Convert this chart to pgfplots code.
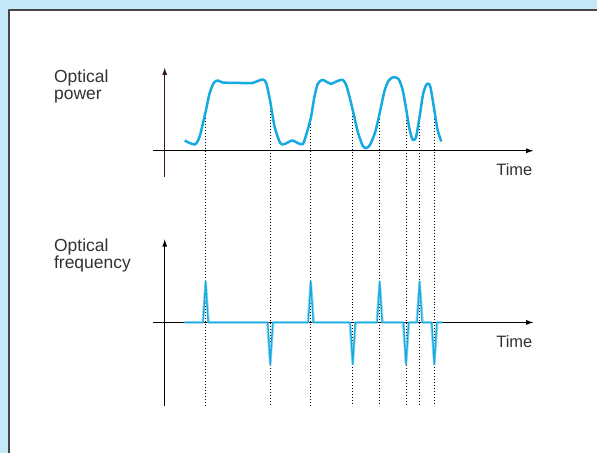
\documentclass[border=0pt]{standalone}
\usepackage{fontspec}
\setmainfont{Liberation Sans}
\usepackage{pgfplots}
\pgfplotsset{compat=1.18}
\usetikzlibrary{arrows.meta}

\definecolor{bgblue}{RGB}{197,232,248}
\definecolor{sigblue}{RGB}{22,170,226}
\definecolor{frame}{RGB}{70,70,70}
\definecolor{txt}{RGB}{50,50,50}
\definecolor{brownax}{RGB}{60,25,25}

\begin{document}
\begin{tikzpicture}
\begin{axis}[
    scale only axis, width=598pt, height=454pt,
    xmin=0, xmax=598, ymin=0, ymax=454, y dir=reverse,
    hide axis, clip=false,
    every axis plot/.append style={line join=round},
  ]
  % background and frame
  \addplot[fill=bgblue, draw=none] coordinates {(0,0) (598,0) (598,454) (0,454)} -- cycle;
  \addplot[fill=white, draw=none] coordinates {(9,10) (598,10) (598,454) (9,454)} -- cycle;
  \addplot[frame, line width=2pt] coordinates {(9,454) (9,10) (598,10)};

  % dotted markers
  \addplot[black, line width=1pt, dash pattern=on 1pt off 2pt] coordinates {(206,112) (206,407)};
  \addplot[black, line width=1pt, dash pattern=on 1pt off 2pt] coordinates {(270.7,102) (270.7,407)};
  \addplot[black, line width=1pt, dash pattern=on 1pt off 2pt] coordinates {(311.3,118) (311.3,407)};
  \addplot[black, line width=1pt, dash pattern=on 1pt off 2pt] coordinates {(353.3,110) (353.3,407)};
  \addplot[black, line width=1pt, dash pattern=on 1pt off 2pt] coordinates {(380.3,113) (380.3,407)};
  \addplot[black, line width=1pt, dash pattern=on 1pt off 2pt] coordinates {(406.7,108) (406.7,407)};
  \addplot[black, line width=1pt, dash pattern=on 1pt off 2pt] coordinates {(420.3,117) (420.3,407)};
  \addplot[black, line width=1pt, dash pattern=on 1pt off 2pt] coordinates {(435,110) (435,407)};

  % top axes
  \addplot[black, line width=1.3pt, -{Latex[length=8pt,width=5pt]}] coordinates {(153,151) (535,151)};
  \addplot[brownax, line width=1.5pt, -{Latex[length=8pt,width=5pt]}] coordinates {(165,177) (165,67)};

  % optical power
  \addplot[sigblue, line width=2.5pt, smooth, tension=0.45] coordinates {
    (185,140.7) (195,144.7) (200,136.7) (206,111.7) (210,93.3) (214.3,82.7)
    (218.3,80.7) (223.3,82.7) (236.7,83) (251.7,83.3) (256.7,81.7) (263.3,79.7)
    (266.7,83.3) (270.7,101.7) (275,126.7) (280.7,143.3) (285,144.3) (292.7,140.7)
    (298.3,143.3) (303.3,144.3) (306.7,135) (311.3,118.3) (315,96.7) (318.3,84)
    (322.7,80) (326.7,81.7) (331.7,84) (336.7,81.7) (343.3,80) (347.3,86.7)
    (353.3,110) (358.3,131.7) (363.3,146) (366.7,148.3) (370.7,145) (376,131.7)
    (380.3,113.3) (385,91.7) (389.3,80.7) (394.3,77.3) (399.3,79.3) (403.3,90)
    (406.7,108.3) (410,128.3) (413.3,140) (416.7,137.3) (420.3,116.7) (424,93.3)
    (427.7,84) (431,86.7) (435,110) (438.3,130) (442,141.7)
  };

  % bottom axes
  \addplot[black, line width=1.3pt, -{Latex[length=8pt,width=5pt]}] coordinates {(153,323) (535,323)};
  \addplot[black, line width=1.3pt, -{Latex[length=8pt,width=5pt]}] coordinates {(165,407) (165,239)};

  % optical frequency (chirp)
  \addplot[sigblue!45, line width=2.5pt] coordinates {
    (185,323) (203,323) (206,282) (209,323)
    (267.7,323) (270.7,365) (273.7,323)
    (308.3,323) (311.3,282) (314.3,323)
    (350.3,323) (353.3,365) (356.3,323)
    (377.3,323) (380.3,282) (383.3,323)
    (403.7,323) (406.7,365) (409.7,323)
    (417.3,323) (420.3,282) (423.3,323)
    (432,323) (435,365) (438,323) (443,323)
  };
  \addplot[sigblue, line width=1.3pt] coordinates {
    (185,323) (203.5,323) (206,282) (208.5,323)
    (268.2,323) (270.7,365) (273.2,323)
    (308.8,323) (311.3,282) (313.8,323)
    (350.8,323) (353.3,365) (355.8,323)
    (377.8,323) (380.3,282) (382.8,323)
    (404.2,323) (406.7,365) (409.2,323)
    (417.8,323) (420.3,282) (422.8,323)
    (432.5,323) (435,365) (437.5,323) (443,323)
  };

  % labels
  \node[anchor=base west, txt, font=\fontsize{17.5}{18}\selectfont, inner sep=0pt] at (axis cs:54,83) {Optical};
  \node[anchor=base west, txt, font=\fontsize{17.5}{18}\selectfont, inner sep=0pt] at (axis cs:54,100) {power};
  \node[anchor=base west, txt, font=\fontsize{17.5}{18}\selectfont, inner sep=0pt] at (axis cs:54,252) {Optical};
  \node[anchor=base west, txt, font=\fontsize{17.5}{18}\selectfont, inner sep=0pt] at (axis cs:54,268.5) {frequency};
  \node[anchor=base west, txt, font=\fontsize{16.5}{16}\selectfont, inner sep=0pt] at (axis cs:497,176) {Time};
  \node[anchor=base west, txt, font=\fontsize{16.5}{16}\selectfont, inner sep=0pt] at (axis cs:497,348) {Time};
\end{axis}
\end{tikzpicture}
\end{document}
